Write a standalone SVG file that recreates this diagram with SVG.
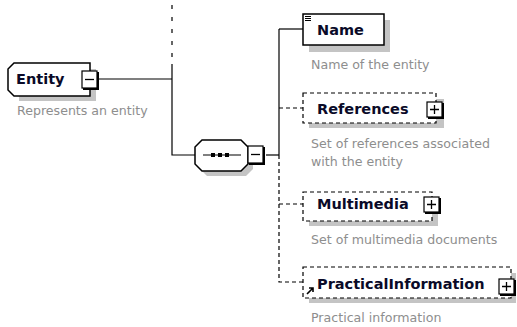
<svg xmlns="http://www.w3.org/2000/svg" width="517" height="327" viewBox="0 0 517 327">
<style>
.lbl{font-family:"DejaVu Sans",Verdana,sans-serif;font-weight:bold;font-size:14.5px;fill:#0a0a28}
.desc{font-family:"DejaVu Sans",Verdana,sans-serif;font-size:12.6px;fill:#8e8e8e}
.box{fill:#fff;stroke:#000;stroke-width:1.5}
.dbox{fill:#fff;stroke:#000;stroke-width:1.2;stroke-dasharray:4,3}
.sh{fill:#c4c4c4}
.ln{stroke:#000;stroke-width:1.2;fill:none}
.dl{stroke:#000;stroke-width:1.2;fill:none;stroke-dasharray:4,3}
.btn{fill:#fff;stroke:#000;stroke-width:1.2}
</style>
<defs>
<g id="plus">
<rect class="btn" x="0" y="0" width="15" height="15"/>
<path d="M16,1V16H1" stroke="#000" stroke-width="2" fill="none"/>
<path d="M3,7.5H12M7.5,3V12" stroke="#000" stroke-width="1.3"/>
</g>
<g id="minus">
<rect class="btn" x="0" y="0" width="15" height="17"/>
<path d="M16,1V18H1" stroke="#000" stroke-width="2" fill="none"/>
<path d="M3,8.5H12" stroke="#000" stroke-width="1.3"/>
</g>
</defs>
<g id="connectors">
<path class="ln" d="M98,79H172"/>
<path class="ln" d="M172,5V58" stroke-dasharray="4,8"/>
<path class="ln" d="M172,64V155H195"/>
<path class="ln" d="M266,155H279"/>
<path class="ln" d="M279,29V155"/>
<path class="ln" d="M279,29H303"/>
<path class="dl" d="M279,155V282H303"/>
<path class="dl" d="M279,108H303"/>
<path class="dl" d="M279,204H303"/>
</g>
<g id="entity">
<rect class="sh" x="19" y="69" width="77" height="32"/>
<path class="box" d="M14,63H90V96H14L8,90V69Z"/>
<text class="lbl" x="16" y="84">Entity</text>
<use href="#minus" x="82" y="71"/>
<text class="desc" x="17" y="115">Represents an entity</text>
</g>
<g id="sequence">
<path class="sh" d="M207,145H246L253,152V169L246,176H207L200,169V152Z"/>
<path class="box" d="M202,140H241L248,147V164L241,171H202L195,164V147Z"/>
<path class="ln" d="M203,155H241"/>
<rect x="211" y="153" width="4" height="4" fill="#000"/>
<rect x="218" y="153" width="4" height="4" fill="#000"/>
<rect x="225" y="153" width="4" height="4" fill="#000"/>
<use href="#minus" x="248" y="146"/>
</g>
<g id="name">
<rect class="sh" x="309" y="20" width="81" height="32"/>
<rect class="box" x="303" y="14" width="81" height="31"/>
<path d="M305,16.5H311M305,18.5H311M305,20.5H311" stroke="#000" stroke-width="1"/>
<text class="lbl" x="317" y="35">Name</text>
<text class="desc" x="311" y="69">Name of the entity</text>
</g>
<g id="references">
<rect class="sh" x="309" y="99" width="135" height="29"/>
<rect class="dbox" x="303" y="93" width="133" height="30"/>
<text class="lbl" x="317" y="114">References</text>
<use href="#plus" x="427" y="102"/>
<text class="desc" x="311" y="148">Set of references associated</text>
<text class="desc" x="311" y="166">with the entity</text>
</g>
<g id="multimedia">
<rect class="sh" x="309" y="198" width="129" height="28"/>
<rect class="dbox" x="303" y="192" width="129" height="29"/>
<text class="lbl" x="317" y="209">Multimedia</text>
<use href="#plus" x="424" y="197"/>
<text class="desc" x="311" y="244">Set of multimedia documents</text>
</g>
<g id="practicalinformation">
<rect class="sh" x="309" y="273" width="207" height="30"/>
<rect class="dbox" x="303" y="267" width="208" height="31"/>
<path d="M307,294L313,288M309,288H313V292" stroke="#000" stroke-width="1.6" fill="none"/>
<text class="lbl" x="317" y="289">PracticalInformation</text>
<use href="#plus" x="499" y="279"/>
<text class="desc" x="311" y="322">Practical information</text>
</g>
</svg>
